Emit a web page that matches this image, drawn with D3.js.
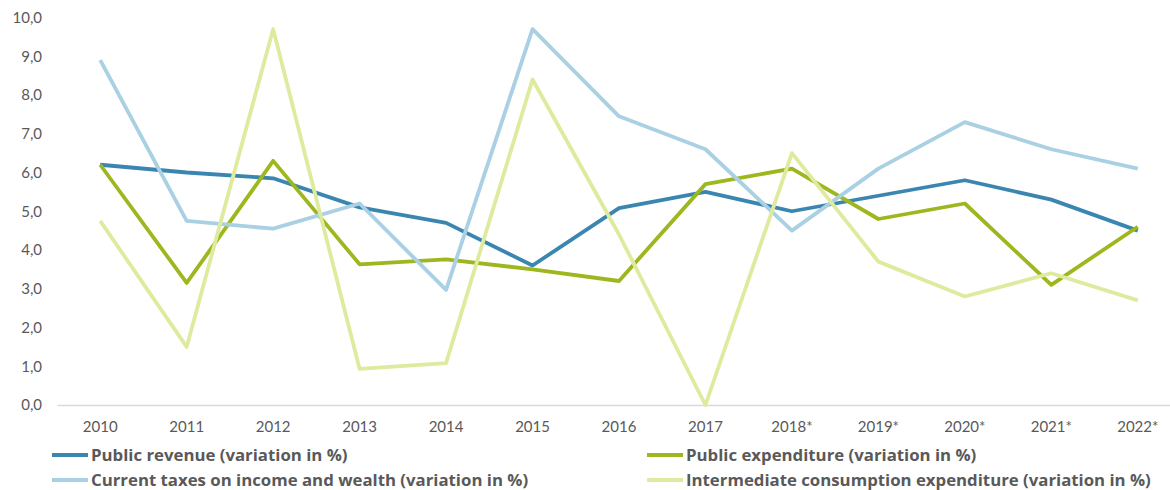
<!DOCTYPE html>
<html>
<head>
<meta charset="utf-8">
<script src="https://cdn.jsdelivr.net/npm/d3@7"></script>
<style>
  body { margin: 0; background: #fff; }
  svg { display: block; font-family: Lato, "Open Sans", sans-serif; }
</style>
</head>
<body>
<svg width="1170" height="490"></svg>
<script>
"use strict";

// categories
const years = ["2010", "2011", "2012", "2013", "2014", "2015", "2016", "2017", "2018*", "2019*", "2020*", "2021*", "2022*"];

// series values (variation in %)
const revenue = [6.2, 6.0, 5.85, 5.1, 4.7, 3.6, 5.08, 5.5, 5.0, 5.4, 5.8, 5.3, 4.5];
const expenditure = [6.2, 3.15, 6.3, 3.63, 3.76, 3.5, 3.2, 5.7, 6.1, 4.8, 5.2, 3.1, 4.6];
const taxes = [8.9, 4.75, 4.55, 5.2, 2.97, 9.7, 7.45, 6.6, 4.5, 6.1, 7.3, 6.6, 6.1];
const consumption = [4.75, 1.5, 9.7, 0.93, 1.08, 8.4, 4.4, 0.0, 6.5, 3.7, 2.8, 3.4, 2.7];

const yTicks = [0, 1, 2, 3, 4, 5, 6, 7, 8, 9, 10];

const seriesNames = [
  "Public revenue (variation in %)",
  "Public expenditure (variation in %)",
  "Current taxes on income and wealth (variation in %)",
  "Intermediate consumption expenditure (variation in %)"
];
const seriesColors = ["#3a86b0", "#9cb81e", "#a9d0e3", "#deeb9e"];
const seriesData = [revenue, expenditure, taxes, consumption];

const svg = d3.select("svg");

// scales
const x = d3.scaleBand().domain(years).range([57, 1181]);
const y = d3.scaleLinear().domain([0, 10]).range([405, 17.5]);

// y axis labels (no line)
const yAxis = svg.append("g")
  .attr("transform", "translate(42,0)")
  .call(d3.axisLeft(y).tickValues(yTicks).tickSize(0).tickPadding(0)
    .tickFormat(d => d3.format(".1f")(d).replace(".", ",")));
yAxis.select(".domain").remove();
yAxis.selectAll("text")
  .style("font-size", "15px")
  .style("fill", "#595959")
  .style("font-family", "Lato, 'Open Sans', sans-serif");

// x axis (baseline)
const xAxis = svg.append("g")
  .attr("transform", "translate(0,405)")
  .call(d3.axisBottom(x).tickSize(0).tickPadding(16));
xAxis.select(".domain").attr("stroke", "#d9d9d9").attr("stroke-width", 1.5);
xAxis.selectAll("text")
  .style("font-size", "15px")
  .style("fill", "#595959")
  .style("font-family", "Lato, 'Open Sans', sans-serif");

// lines, drawn in series order (later ones on top)
const line = d3.line()
  .x((d, i) => x(years[i]) + x.bandwidth() / 2)
  .y(d => y(d));

seriesData.forEach((data, k) => {
  svg.append("path")
    .datum(data)
    .attr("d", line)
    .attr("fill", "none")
    .attr("stroke", seriesColors[k])
    .attr("stroke-width", 3.8)
    .attr("stroke-linejoin", "round");
});

// legend
const legendPos = [[52, 455], [647, 455], [52, 480], [647, 480]];
seriesNames.forEach((name, k) => {
  const g = svg.append("g").attr("transform", `translate(${legendPos[k][0]},${legendPos[k][1]})`);
  g.append("line")
    .attr("x1", 0).attr("x2", 36)
    .attr("y1", 0).attr("y2", 0)
    .attr("stroke", seriesColors[k])
    .attr("stroke-width", 3.8);
  g.append("text")
    .attr("x", 39)
    .attr("y", 0)
    .attr("dy", "0.35em")
    .style("font-size", "16.8px")
    .style("font-weight", "bold")
    .style("font-family", "'Open Sans', Lato, sans-serif")
    .style("fill", "#595959")
    .text(name);
});
</script>
</body>
</html>
